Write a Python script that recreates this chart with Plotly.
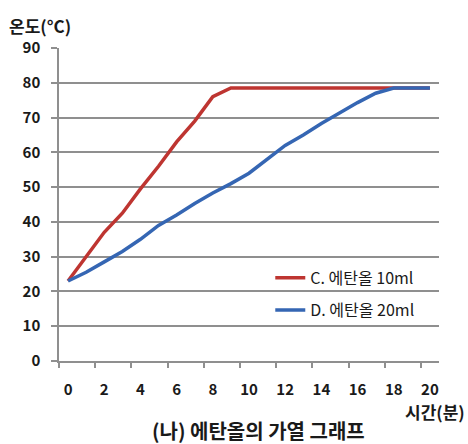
import plotly.graph_objects as go

minutes = list(range(0, 21))
temp_c_10ml = [23, 30, 37, 42.5, 49.5, 56, 63, 69, 76, 78.5, 78.5, 78.5, 78.5, 78.5,
               78.5, 78.5, 78.5, 78.5, 78.5, 78.5, 78.5]
temp_d_20ml = [23, 25.5, 28.5, 31.5, 35, 39, 42, 45.3, 48.3, 51, 54, 58, 62, 65,
               68.3, 71.3, 74.3, 77, 78.5, 78.5, 78.5]
x_tick_vals = list(range(0, 21, 2))
x_tick_text = [str(v) for v in x_tick_vals]
y_tick_vals = list(range(0, 91, 10))
name_c = "C. 에탄올 10ml"
name_d = "D. 에탄올 20ml"

FONT = "Noto Sans CJK KR"
TXT = "#1a1a1a"
GRID = "#8f8f8f"

fig = go.Figure()
fig.add_trace(go.Scatter(x=minutes, y=temp_c_10ml, mode="lines", name=name_c,
                         line=dict(color="#BE3531", width=3.5), legend="legend"))
fig.add_trace(go.Scatter(x=minutes, y=temp_d_20ml, mode="lines", name=name_d,
                         line=dict(color="#3566B3", width=3.5), legend="legend2"))

fig.update_layout(
    width=468, height=444,
    margin=dict(l=59, r=29, t=48, b=83, autoexpand=False),
    paper_bgcolor="white", plot_bgcolor="white",
    font=dict(family=FONT, color=TXT),
    showlegend=True,
    legend=dict(x=0.556, y=0.266, xanchor="left", yanchor="middle",
                bgcolor="rgba(0,0,0,0)", font=dict(size=16, color=TXT)),
    legend2=dict(x=0.556, y=0.163, xanchor="left", yanchor="middle",
                 bgcolor="rgba(0,0,0,0)", font=dict(size=16, color=TXT)),
    xaxis=dict(range=[-0.5, 20.5], tickvals=x_tick_vals, ticktext=x_tick_text,
               ticks="", showgrid=False, zeroline=False, automargin=False,
               showline=True, linecolor=GRID, linewidth=1.5,
               tickfont=dict(size=15, color=TXT, weight="bold"),
               ticklabelstandoff=14,
               minor=dict(ticks="outside", tick0=-0.5, dtick=2, ticklen=5,
                          tickcolor=GRID, tickwidth=1.5, showgrid=False)),
    yaxis=dict(range=[0, 90], tickvals=y_tick_vals, showgrid=True, automargin=False,
               gridcolor=GRID, gridwidth=1.5, zeroline=False,
               showline=True, linecolor=GRID, linewidth=1.5,
               ticks="outside", ticklen=6, tickcolor=GRID, tickwidth=1.5,
               tickfont=dict(size=15, color=TXT, weight="bold"),
               ticklabelstandoff=8),
    annotations=[
        dict(text="온도(°C)", xref="paper", yref="paper", x=-0.137, y=1.072,
             xanchor="left", yanchor="middle", showarrow=False,
             font=dict(size=17, color=TXT, weight="bold")),
        dict(text="시간(분)", xref="paper", yref="paper", x=1.074, y=-0.16,
             xanchor="right", yanchor="middle", showarrow=False,
             font=dict(size=17, color=TXT, weight="bold")),
        dict(text="(나) 에탄올의 가열 그래프", xref="paper", yref="paper", x=0.526, y=-0.2236,
             xanchor="center", yanchor="middle", showarrow=False,
             font=dict(size=20, color=TXT, weight="bold")),
    ],
)

fig.write_html("out.html", config={"displayModeBar": False},
               post_script="document.body.style.margin='0';")
